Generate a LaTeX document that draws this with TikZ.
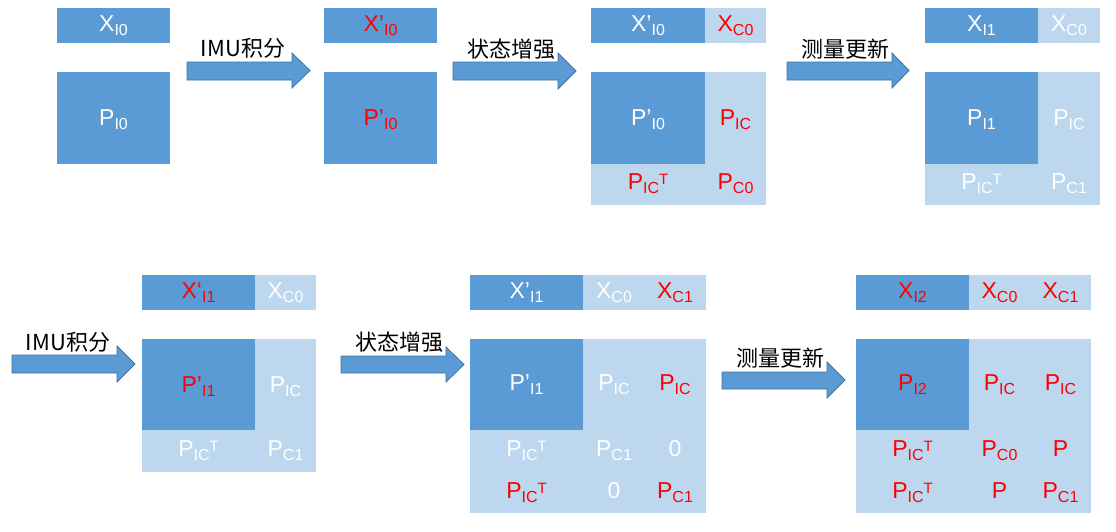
\documentclass[tikz,border=0pt]{standalone}
\usepackage{fontspec}
\setmainfont{Liberation Sans}
\newfontfamily\cjk{Noto Sans CJK SC}
\definecolor{dk}{HTML}{5B9BD5}
\definecolor{lt}{HTML}{BDD7EE}
\definecolor{rd}{HTML}{FF0000}
\definecolor{arrline}{HTML}{41719C}
\newcommand\lsub[1]{\raisebox{-4.5pt}{\fontsize{16}{16}\selectfont #1}}
\newcommand\lsup[1]{\raisebox{5pt}{\fontsize{15}{15}\selectfont #1}}
\newcommand\barrow[7]{% x0, xhead, xtip, shaft top, shaft bottom, head top, head bottom
  \filldraw[blockarrow] (#1,#4) -- (#2,#4) -- (#2,#6) -- (#3,{(#6+#7)/2}) -- (#2,#7) -- (#2,#5) -- (#1,#5) -- cycle;}
\tikzset{
  dkbox/.style={fill=dk},
  ltbox/.style={fill=lt},
  wt/.style={text=white, font=\fontsize{23}{23}\selectfont, inner sep=0pt, anchor=base},
  rt/.style={text=rd, font=\fontsize{23}{23}\selectfont, inner sep=0pt, anchor=base},
  blockarrow/.style={fill=dk, draw=arrline, line width=0.8pt, line join=miter},
  albl/.style={font=\cjk\fontsize{22}{22}\selectfont, text=black, inner sep=0pt, anchor=base},
}
\begin{document}
\begin{tikzpicture}[x=1pt,y=-1pt]
\useasboundingbox (0,0) rectangle (1116,531);
% ---------- Block 1
\fill[dkbox] (57,8) rectangle (170,43);
\fill[dkbox] (57,72) rectangle (170,164);
\node[wt] (x1) at (113.5,31) {X\lsub{I0}};
\node[wt] (p1) at (113.5,125) {P\lsub{I0}};
% arrow 1
\barrow{187}{292}{310}{62}{80}{53}{88}
\node[albl] (a1) at (243,56) {IMU积分};
% ---------- Block 2
\fill[dkbox] (324,8) rectangle (437,43);
\fill[dkbox] (324,72) rectangle (437,164);
\node[rt] (x2) at (380.5,31) {X’\lsub{I0}};
\node[rt] (p2) at (380.5,125) {P’\lsub{I0}};
% arrow 2
\barrow{453}{558}{576}{62}{80}{53}{89}
\node[albl] (a2) at (511.5,57) {状态增强};
% ---------- Block 3
\fill[ltbox] (705,8) rectangle (766,43);
\fill[dkbox] (591,8) rectangle (705,43);
\fill[ltbox] (591,72) rectangle (766,205);
\fill[dkbox] (591,72) rectangle (705,164);
\node[wt] (x3) at (648,31) {X’\lsub{I0}};
\node[rt] (xc3) at (735.5,31) {X\lsub{C0}};
\node[wt] (p3) at (648,125) {P’\lsub{I0}};
\node[rt] (pic3) at (735.5,125) {P\lsub{IC}};
\node[rt] (pict3) at (648,189) {P\lsub{IC}\lsup{T}};
\node[rt] (pc3) at (735.5,189) {P\lsub{C0}};
% arrow 3
\barrow{787}{892}{909}{62}{80}{53}{88}
\node[albl] (a3) at (845,57) {测量更新};
% ---------- Block 4
\fill[ltbox] (1038,8) rectangle (1100,43);
\fill[dkbox] (925,8) rectangle (1038,43);
\fill[ltbox] (925,72) rectangle (1100,205);
\fill[dkbox] (925,72) rectangle (1038,164);
\node[wt] (x4) at (981.5,31) {X\lsub{I1}};
\node[wt] (xc4) at (1069,31) {X\lsub{C0}};
\node[wt] (p4) at (981.5,125) {P\lsub{I1}};
\node[wt] (pic4) at (1069,125) {P\lsub{IC}};
\node[wt] (pict4) at (981.5,189) {P\lsub{IC}\lsup{T}};
\node[wt] (pc4) at (1069,189) {P\lsub{C1}};
% ---------- arrow 4
\barrow{12}{117}{135}{355}{373}{346}{382}
\node[albl] (a4) at (68,350) {IMU积分};
% ---------- Block 5
\fill[ltbox] (255,275) rectangle (316,310);
\fill[dkbox] (142,275) rectangle (255,310);
\fill[ltbox] (142,339) rectangle (316,472);
\fill[dkbox] (142,339) rectangle (255,430);
\node[rt] (x5) at (198.5,298) {X‘\lsub{I1}};
\node[wt] (xc5) at (285.5,298) {X\lsub{C0}};
\node[rt] (p5) at (198.5,392) {P’\lsub{I1}};
\node[wt] (pic5) at (285.5,392) {P\lsub{IC}};
\node[wt] (pict5) at (198.5,456) {P\lsub{IC}\lsup{T}};
\node[wt] (pc5) at (285.5,456) {P\lsub{C1}};
% arrow 5
\barrow{341}{446}{464}{356}{373}{347}{382}
\node[albl] (a5) at (399,350) {状态增强};
% ---------- Block 6
\fill[ltbox] (583,275) rectangle (706,310);
\fill[dkbox] (470,275) rectangle (583,310);
\fill[ltbox] (470,339) rectangle (706,513);
\fill[dkbox] (470,339) rectangle (583,430);
\node[wt] (x6) at (526.5,298) {X’\lsub{I1}};
\node[wt] (xc6) at (614,298) {X\lsub{C0}};
\node[rt] (xd6) at (675,298) {X\lsub{C1}};
\node[wt] (p6) at (526.5,390) {P’\lsub{I1}};
\node[wt] (pic6) at (614,390) {P\lsub{IC}};
\node[rt] (picb6) at (675,390) {P\lsub{IC}};
\node[wt] (pict6) at (526.5,456) {P\lsub{IC}\lsup{T}};
\node[wt] (pc6) at (614,456) {P\lsub{C1}};
\node[wt] (z6) at (675,456) {0};
\node[rt] (pictb6) at (526.5,498) {P\lsub{IC}\lsup{T}};
\node[wt] (zb6) at (614,498) {0};
\node[rt] (pcb6) at (675,498) {P\lsub{C1}};
% arrow 6
\barrow{722}{827}{845}{372}{389}{362}{398}
\node[albl] (a6) at (780.5,366) {测量更新};
% ---------- Block 7
\fill[ltbox] (969,275) rectangle (1091,310);
\fill[dkbox] (856,275) rectangle (969,310);
\fill[ltbox] (856,339) rectangle (1091,513);
\fill[dkbox] (856,339) rectangle (969,430);
\node[rt] (x7) at (912.5,298) {X\lsub{I2}};
\node[rt] (xc7) at (999.5,298) {X\lsub{C0}};
\node[rt] (xd7) at (1060.5,298) {X\lsub{C1}};
\node[rt] (p7) at (912.5,390) {P\lsub{I2}};
\node[rt] (pic7) at (999.5,390) {P\lsub{IC}};
\node[rt] (picb7) at (1060.5,390) {P\lsub{IC}};
\node[rt] (pict7) at (912.5,456) {P\lsub{IC}\lsup{T}};
\node[rt] (pc7) at (999.5,456) {P\lsub{C0}};
\node[rt] (pp7) at (1060.5,456) {P};
\node[rt] (pictb7) at (912.5,498) {P\lsub{IC}\lsup{T}};
\node[rt] (ppb7) at (999.5,498) {P};
\node[rt] (pcb7) at (1060.5,498) {P\lsub{C1}};
\end{tikzpicture}
\end{document}
